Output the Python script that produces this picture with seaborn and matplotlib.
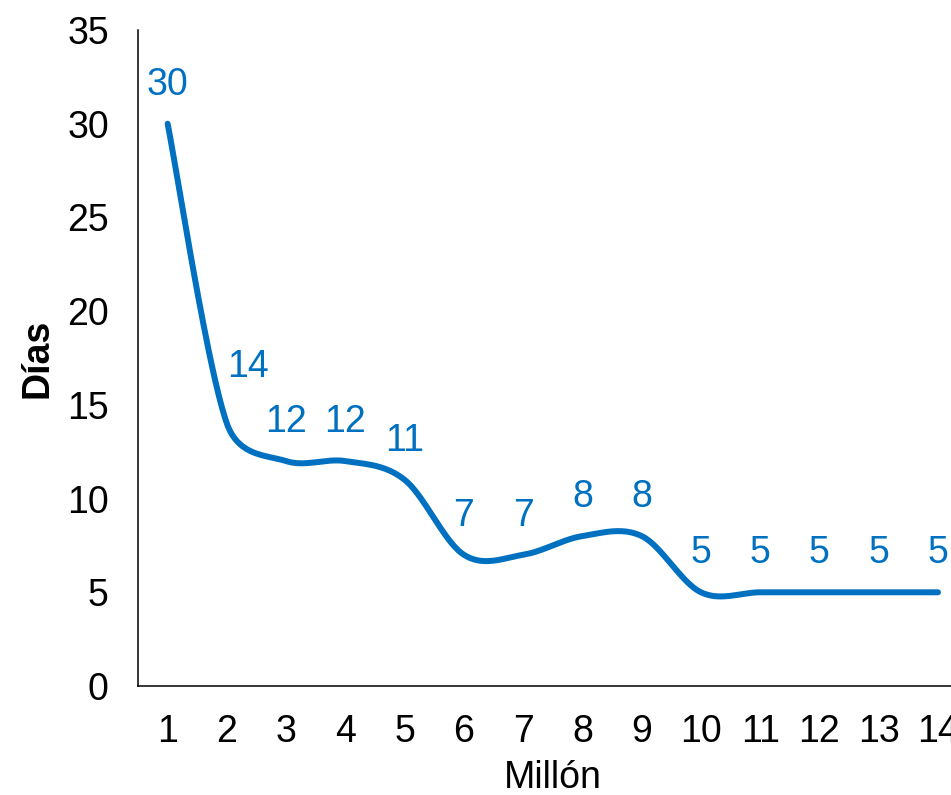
import numpy as np
import pandas as pd
import matplotlib
matplotlib.use("Agg")
import matplotlib.pyplot as plt
import seaborn as sns

# Data
millon = [1, 2, 3, 4, 5, 6, 7, 8, 9, 10, 11, 12, 13, 14]
dias = [30, 14, 12, 12, 11, 7, 7, 8, 8, 5, 5, 5, 5, 5]
y_ticks = [0, 5, 10, 15, 20, 25, 30, 35]

COLOR = "#0070C0"
FS = 27

sns.set_theme(style="white")
plt.rcParams["font.family"] = ["Liberation Sans", "DejaVu Sans"]

AX_W, AX_H = 829.6, 656.0  # axes size in pixels
SX, SY = AX_W / 14.0, AX_H / 35.0


def smooth_curve(xs, ys, n=40):
    """Excel-like smoothed line: cubic Bezier with Catmull-Rom tangents,
    arms limited to half the segment length (computed in screen space)."""
    P = np.column_stack([np.asarray(xs, float) * SX, np.asarray(ys, float) * SY])
    ext = np.vstack([P[0], P, P[-1]])
    out = []
    t = np.linspace(0, 1, n)
    for i in range(len(P) - 1):
        p0, p1, p2, p3 = ext[i], ext[i + 1], ext[i + 2], ext[i + 3]
        seg_len = np.linalg.norm(p2 - p1)
        a1 = (p2 - p0) / 6.0
        a2 = (p3 - p1) / 6.0
        for a in (a1, a2):
            L = np.linalg.norm(a)
            if L > seg_len / 2 and L > 0:
                a *= (seg_len / 2) / L
        c1 = p1 + a1
        c2 = p2 - a2
        seg = ((1 - t) ** 3)[:, None] * p1 + (3 * (1 - t) ** 2 * t)[:, None] * c1 \
            + (3 * (1 - t) * t ** 2)[:, None] * c2 + (t ** 3)[:, None] * p2
        out.append(seg if i == 0 else seg[1:])
    C = np.vstack(out)
    return C[:, 0] / SX, C[:, 1] / SY


cx, cy = smooth_curve(millon, dias)
df = pd.DataFrame({"x": cx, "y": cy})

fig = plt.figure(figsize=(9.51, 7.95), dpi=100)
ax = fig.add_axes([138 / 951, 109 / 795, AX_W / 951, AX_H / 795])

sns.lineplot(data=df, x="x", y="y", sort=False, estimator=None, color=COLOR,
             linewidth=4.3, ax=ax, solid_capstyle="round")

# Data labels
for i, (xv, yv) in enumerate(zip(millon, dias)):
    dx, dy = (0, 28) if i != 1 else (15, 41)
    ax.annotate(str(yv), (xv, yv), xytext=(dx, dy), textcoords="offset points",
                ha="center", va="center", color=COLOR, fontsize=FS)

ax.set_xlim(0.5, 14.5)
ax.set_ylim(0, 35)
ax.set_xticks(millon)
ax.set_xticklabels([str(m) for m in millon])
ax.set_yticks(y_ticks)
ax.set_yticklabels([str(v) for v in y_ticks])
ax.tick_params(axis="both", length=0, labelsize=FS, colors="black")
ax.tick_params(axis="y", pad=21)
ax.tick_params(axis="x", pad=20)

for s in ["top", "right"]:
    ax.spines[s].set_visible(False)
for s in ["left", "bottom"]:
    ax.spines[s].set_color("black")
    ax.spines[s].set_linewidth(1.1)
    ax.spines[s].set_clip_on(False)

ax.set_xlabel("Millón", fontsize=FS, labelpad=7, color="black")
ax.set_ylabel("Días", fontsize=FS, fontweight="bold", labelpad=8, color="black")
ax.grid(False)

fig.savefig("out.png", dpi=100)
